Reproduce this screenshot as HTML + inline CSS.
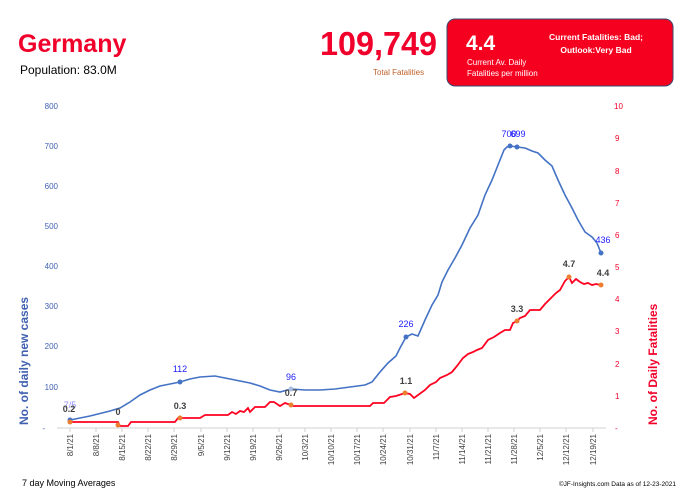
<!DOCTYPE html><html><head><style>body{margin:0;background:#fff;width:684px;height:496px;overflow:hidden;font-family:"Liberation Sans",sans-serif}</style></head><body>
<svg width="684" height="496" xmlns="http://www.w3.org/2000/svg" font-family="Liberation Sans, sans-serif">
<text x="18" y="52" font-size="25" font-weight="bold" fill="#f0002a">Germany</text>
<text x="20" y="74" font-size="12" fill="#000">Population: 83.0M</text>
<text x="320" y="55" font-size="33" font-weight="bold" fill="#f0002a" textLength="117" lengthAdjust="spacingAndGlyphs">109,749</text>
<text x="373" y="75" font-size="8" fill="#c0602a">Total Fatalities</text>
<rect x="447" y="19" width="226" height="67" rx="8" fill="#f5001f" stroke="#3a4a70" stroke-width="1"/>
<text x="466" y="50" font-size="21" font-weight="bold" fill="#fff">4.4</text>
<text x="467" y="65" font-size="8" fill="#fff">Current Av. Daily</text>
<text x="467" y="76" font-size="8" fill="#fff">Fatalities per million</text>
<text x="596" y="40" font-size="8.5" font-weight="bold" fill="#fff" text-anchor="middle">Current Fatalities: Bad;</text>
<text x="596" y="53" font-size="8.5" font-weight="bold" fill="#fff" text-anchor="middle">Outlook:Very Bad</text>
<g font-size="8" fill="#4060b0" text-anchor="end">
<text x="58" y="109">800</text><text x="58" y="149">700</text><text x="58" y="189">600</text><text x="58" y="229">500</text><text x="58" y="269">400</text><text x="58" y="309">300</text><text x="58" y="349">200</text><text x="58" y="390">100</text><text x="45" y="431">-</text>
</g>
<g font-size="8" fill="#f0002a">
<text x="614" y="109">10</text><text x="615" y="141">9</text><text x="615" y="174">8</text><text x="615" y="206">7</text><text x="615" y="238">6</text><text x="615" y="270">5</text><text x="615" y="302">4</text><text x="615" y="334">3</text><text x="615" y="367">2</text><text x="615" y="399">1</text><text x="615" y="431">-</text>
</g>
<text transform="translate(28,425) rotate(-90)" font-size="12" font-weight="bold" fill="#4060b0">No. of daily new  cases</text>
<text transform="translate(657,425) rotate(-90)" font-size="12" font-weight="bold" fill="#f0002a">No. of Daily Fatalities</text>
<line x1="57" y1="428" x2="606" y2="428" stroke="#d0d0d0"/>
<g stroke="#d0d0d0">
<line x1="70" y1="428" x2="70" y2="432"/><line x1="96" y1="428" x2="96" y2="432"/><line x1="122" y1="428" x2="122" y2="432"/><line x1="148" y1="428" x2="148" y2="432"/><line x1="174" y1="428" x2="174" y2="432"/><line x1="201" y1="428" x2="201" y2="432"/><line x1="227" y1="428" x2="227" y2="432"/><line x1="253" y1="428" x2="253" y2="432"/><line x1="279" y1="428" x2="279" y2="432"/><line x1="305" y1="428" x2="305" y2="432"/><line x1="331" y1="428" x2="331" y2="432"/><line x1="357" y1="428" x2="357" y2="432"/><line x1="383" y1="428" x2="383" y2="432"/><line x1="410" y1="428" x2="410" y2="432"/><line x1="436" y1="428" x2="436" y2="432"/><line x1="462" y1="428" x2="462" y2="432"/><line x1="488" y1="428" x2="488" y2="432"/><line x1="514" y1="428" x2="514" y2="432"/><line x1="540" y1="428" x2="540" y2="432"/><line x1="566" y1="428" x2="566" y2="432"/><line x1="593" y1="428" x2="593" y2="432"/>
</g>
<g font-size="8" fill="#404040" text-anchor="end">
<text transform="translate(73,434) rotate(-90)">8/1/21</text><text transform="translate(99,434) rotate(-90)">8/8/21</text><text transform="translate(125,434) rotate(-90)">8/15/21</text><text transform="translate(151,434) rotate(-90)">8/22/21</text><text transform="translate(177,434) rotate(-90)">8/29/21</text><text transform="translate(204,434) rotate(-90)">9/5/21</text><text transform="translate(230,434) rotate(-90)">9/12/21</text><text transform="translate(256,434) rotate(-90)">9/19/21</text><text transform="translate(282,434) rotate(-90)">9/26/21</text><text transform="translate(308,434) rotate(-90)">10/3/21</text><text transform="translate(334,434) rotate(-90)">10/10/21</text><text transform="translate(360,434) rotate(-90)">10/17/21</text><text transform="translate(386,434) rotate(-90)">10/24/21</text><text transform="translate(413,434) rotate(-90)">10/31/21</text><text transform="translate(439,434) rotate(-90)">11/7/21</text><text transform="translate(465,434) rotate(-90)">11/14/21</text><text transform="translate(491,434) rotate(-90)">11/21/21</text><text transform="translate(517,434) rotate(-90)">11/28/21</text><text transform="translate(543,434) rotate(-90)">12/5/21</text><text transform="translate(569,434) rotate(-90)">12/12/21</text><text transform="translate(596,434) rotate(-90)">12/19/21</text>
</g>
<polyline fill="none" stroke="#4472c4" stroke-width="1.6" points="70,420 90,416 110,411 120,408 130,402 140,395 150,390 160,386 170,384 180,382 190,379 200,377 215,376 225,378 235,380 250,383 260,386 270,390 280,392 291,389 305,390 320,390 335,389 350,387 365,385 372,382 380,372 388,363 396,356 400,348 406,337 412,334 418,336 425,320 432,305 438,295 442,282 448,270 455,258 462,245 470,228 478,215 485,195 492,180 498,165 504,150 507,147 510,146 517,147 525,148 532,151 538,153 545,160 552,166 558,180 565,195 572,208 578,220 585,232 592,237 597,243 601,253"/>
<polyline fill="none" stroke="#ff0020" stroke-width="1.8" points="70,422 118,422 120,426 128,426 131,422 175,422 178,418 200,418 205,415 228,415 232,412 236,414 240,411 244,412 248,408 250,412 255,407 265,407 270,402 274,402 280,406 285,403 291,405 292,406 370,406 373,403 384,403 390,397 396,396 405,393 410,394 414,398 425,390 430,385 436,382 440,378 447,375 452,372 457,366 463,358 468,354 473,352 477,350 482,348 488,340 494,337 500,333 505,330 510,330 513,323 517,321 520,318 525,316 530,310 540,310 545,304 550,299 556,293 560,290 565,281 569,277 572,283 576,279 580,282 584,284 588,283 592,285 596,284 601,285"/>
<g fill="#4472c4"><circle cx="70" cy="420" r="2.5"/><circle cx="180" cy="382" r="2.5"/><circle cx="291" cy="389" r="2.5" fill="#a8bde0"/><circle cx="406" cy="337" r="2.5"/><circle cx="510" cy="146" r="2.5"/><circle cx="517" cy="147" r="2.5"/><circle cx="601" cy="253" r="2.5"/></g>
<g fill="#ed7d31"><circle cx="70" cy="422" r="2.5"/><circle cx="118" cy="425" r="2.5"/><circle cx="180" cy="418" r="2.5"/><circle cx="291" cy="405" r="2.5"/><circle cx="405" cy="393" r="2.5"/><circle cx="517" cy="321" r="2.5"/><circle cx="569" cy="277" r="2.5"/><circle cx="601" cy="285" r="2.5"/></g>
<g font-size="9" fill="#2020ff" text-anchor="middle"><text x="70" y="408" fill="#9090ff">7/5</text><text x="180" y="372">112</text><text x="291" y="380">96</text><text x="406" y="327">226</text><text x="509" y="137">700</text><text x="518" y="137">699</text><text x="603" y="243">436</text></g>
<g font-size="9" font-weight="bold" fill="#404040" text-anchor="middle"><text x="69" y="412">0.2</text><text x="118" y="415">0</text><text x="180" y="409">0.3</text><text x="291" y="396">0.7</text><text x="406" y="384">1.1</text><text x="517" y="312">3.3</text><text x="569" y="267">4.7</text><text x="603" y="276">4.4</text></g>
<text x="22" y="486" font-size="9" fill="#000">7 day Moving Averages</text>
<text x="676" y="486" font-size="6.5" fill="#000" text-anchor="end">©JF-Insights.com  Data as of 12-23-2021</text>
</svg></body></html>
